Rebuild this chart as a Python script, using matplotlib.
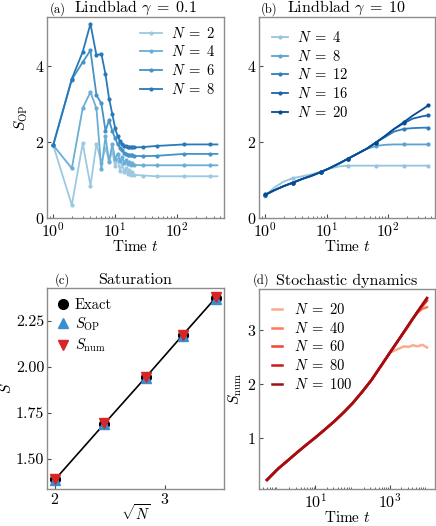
import numpy as np
import matplotlib
matplotlib.use('Agg')
import matplotlib.pyplot as plt
from matplotlib.ticker import LogLocator, NullFormatter, FixedLocator
from matplotlib.lines import Line2D

plt.rcParams['font.family'] = 'serif'
plt.rcParams['font.serif'] = ['cmr10']
plt.rcParams['mathtext.fontset'] = 'cm'
plt.rcParams['axes.formatter.use_mathtext'] = True
plt.rcParams['axes.unicode_minus'] = False

# (a) Lindblad gamma = 0.1
t_a = [1, 2, 3, 4, 5, 6, 7, 8, 9, 10, 11, 12, 13, 14, 15, 16, 17, 18, 19, 20,
       28, 47, 130, 340, 450]
N_a = [2, 4, 6, 8]
S_a = {
    2: [1.92, 0.34, 1.97, 0.85, 1.96, 1.45, 1.85, 1.50, 1.75, 1.38, 1.55, 1.25,
        1.42, 1.20, 1.32, 1.15, 1.26, 1.13, 1.20, 1.14, 1.12, 1.10, 1.10, 1.10, 1.10],
    4: [1.92, 1.31, 2.90, 3.32, 2.89, 1.28, 2.15, 1.48, 1.95, 1.55, 1.70, 1.50,
        1.60, 1.45, 1.53, 1.42, 1.48, 1.40, 1.44, 1.40, 1.39, 1.39, 1.39, 1.39, 1.39],
    6: [1.92, 3.65, 4.11, 4.42, 3.24, 3.02, 2.30, 2.58, 2.30, 2.10, 1.95, 1.85,
        1.78, 1.72, 1.70, 1.67, 1.66, 1.65, 1.65, 1.64, 1.63, 1.64, 1.69, 1.69, 1.69],
    8: [1.92, 3.67, 4.38, 5.12, 4.29, 4.33, 3.79, 3.15, 2.75, 2.38, 2.15, 2.02,
        1.95, 1.91, 1.89, 1.88, 1.87, 1.86, 1.86, 1.86, 1.87, 1.90, 1.94, 1.94, 1.94],
}

# (b) Lindblad gamma = 10
t_b = [1, 1.4, 2, 2.8, 4, 5.6, 8, 11, 16, 22, 32, 45, 63, 90, 125, 180, 250, 355, 450]
N_b = [4, 8, 12, 16, 20]
S_b = {
    4: [0.58, 0.80, 0.96, 1.05, 1.10, 1.15, 1.22, 1.30, 1.36, 1.38, 1.38, 1.38,
        1.38, 1.38, 1.38, 1.38, 1.38, 1.38, 1.38],
    8: [0.60, 0.73, 0.84, 0.93, 1.03, 1.11, 1.21, 1.31, 1.44, 1.56, 1.70, 1.82,
        1.90, 1.93, 1.94, 1.94, 1.94, 1.94, 1.94],
    12: [0.60, 0.73, 0.84, 0.93, 1.03, 1.11, 1.21, 1.31, 1.44, 1.56, 1.70, 1.83,
         1.99, 2.14, 2.28, 2.35, 2.37, 2.38, 2.38],
    16: [0.61, 0.73, 0.84, 0.93, 1.03, 1.11, 1.21, 1.31, 1.44, 1.56, 1.70, 1.83,
         1.99, 2.17, 2.35, 2.50, 2.62, 2.68, 2.71],
    20: [0.62, 0.73, 0.84, 0.93, 1.03, 1.11, 1.21, 1.31, 1.44, 1.56, 1.70, 1.83,
         1.99, 2.17, 2.35, 2.53, 2.70, 2.86, 2.97],
}

# (c) Saturation
N_c = [4, 6, 8, 10, 12]
S_exact = [1.386, 1.690, 1.944, 2.172, 2.376]
S_op = [1.384, 1.686, 1.940, 2.168, 2.370]
S_num = [1.390, 1.692, 1.946, 2.174, 2.378]

# (d) Stochastic dynamics
t_d = [0.5, 1, 1.8, 3.2, 5.6, 10, 18, 32, 56, 100, 180, 320, 560, 1000, 1800,
       3200, 5600, 10000]
S_main = [0.21, 0.42, 0.57, 0.72, 0.86, 1.00, 1.15, 1.30, 1.46, 1.64, 1.85, 2.07,
          2.32, 2.58, 2.84, 3.10, 3.35, 3.60]
t_d20 = [0.5, 1, 1.8, 3.2, 5.6, 10, 18, 32, 56, 100, 180, 320, 560, 800, 1000,
         1300, 1800, 2400, 3200, 4200, 5600, 7500, 10000]
S_d20 = [0.21, 0.42, 0.57, 0.72, 0.86, 1.00, 1.15, 1.30, 1.46, 1.64, 1.85, 2.07,
         2.32, 2.48, 2.58, 2.62, 2.66, 2.70, 2.69, 2.72, 2.70, 2.73, 2.68]
t_d40 = [0.5, 1, 1.8, 3.2, 5.6, 10, 18, 32, 56, 100, 180, 320, 560, 1000, 1800,
         3200, 4200, 5600, 7500, 10000]
S_d40 = [0.21, 0.42, 0.57, 0.72, 0.86, 1.00, 1.15, 1.30, 1.46, 1.64, 1.85, 2.07,
         2.32, 2.58, 2.84, 3.08, 3.22, 3.33, 3.40, 3.43]
S_d60 = [0.21, 0.42, 0.57, 0.72, 0.86, 1.00, 1.15, 1.30, 1.46, 1.64, 1.85, 2.07,
         2.32, 2.58, 2.84, 3.10, 3.34, 3.55]
N_d = [20, 40, 60, 80, 100]

fs_tick = 11.5
fs_title = 11.5
fs_label = 11
fs_leg = 10.5
spine_col = '0.55'

fig = plt.figure(figsize=(4.36, 5.26), dpi=100)
W, H = 436, 526


def add_ax(x0, x1, ytop, ybot):
    return fig.add_axes([x0 / W, (H - ybot) / H, (x1 - x0) / W, (ybot - ytop) / H])


def style(ax):
    for s in ax.spines.values():
        s.set_color(spine_col)
        s.set_linewidth(1.0)
    ax.tick_params(which='both', direction='in', labelsize=fs_tick, color='0.3', pad=2)
    ax.tick_params(which='major', length=3, width=0.8)
    ax.tick_params(which='minor', length=1.8, width=0.6)


def nlab(N):
    return r'$N\;=\;%d$' % N


ax_a = add_ax(47, 224, 17, 218)
ax_b = add_ax(259, 435, 17, 218)
ax_c = add_ax(47, 224, 288, 489)
ax_d = add_ax(259, 435, 289, 489)

blues_a = [plt.cm.Blues(v) for v in [0.38, 0.5, 0.62, 0.72]]
for N, c in zip(N_a, blues_a):
    ax_a.plot(t_a, S_a[N], '-', color=c, lw=1.3, marker='o', ms=2,
              markevery=slice(0, -1), label=nlab(N))

blues_b = [plt.cm.Blues(v) for v in [0.4, 0.55, 0.7, 0.8, 0.9]]
for N, c in zip(N_b, blues_b):
    ax_b.plot(t_b, S_b[N], '-', color=c, lw=1.3, marker='o', ms=2,
              markevery=3, label=nlab(N))

for ax in (ax_a, ax_b):
    ax.set_xscale('log')
    ax.set_xlim(10 ** -0.1, 10 ** 2.76)
    ax.set_ylim(0, 5.3)
    ax.set_yticks([0, 2, 4])
    ax.set_xlabel('Time $t$', fontsize=fs_label, labelpad=0)
    style(ax)
ax_a.set_ylabel(r'$S_{\rm OP}$', fontsize=fs_label, labelpad=3)

ax_a.legend(loc='upper right', frameon=False, fontsize=fs_leg, handlelength=1.5,
            labelspacing=0.25, handletextpad=0.6, borderaxespad=0.2)
ax_b.legend(loc='upper left', frameon=False, fontsize=fs_leg, handlelength=1.1,
            labelspacing=0.25, handletextpad=0.6, borderaxespad=0.5)

# (c)
x_c = np.sqrt(N_c)
ax_c.plot(x_c, S_exact, 'o-', color='black', lw=1.2, ms=7, label='Exact')
ax_c.plot(x_c, S_op, '^', color='#3a8fd0', ms=7, lw=0, label=r'$S_{\rm OP}$')
ax_c.plot(x_c, S_num, 'v', color='#d62728', ms=7, lw=0, label=r'$S_{\rm num}$')
ax_c.set_yticks([1.5, 1.75, 2.0, 2.25])
ax_c.set_yticklabels(['1.50', '1.75', '2.00', '2.25'])
ax_c.set_xticks([2, 3])
ax_c.set_xlabel(r'$\sqrt{N}$', fontsize=10.5, labelpad=-3)
ax_c.set_ylabel('$S$', fontsize=fs_label, labelpad=1)
style(ax_c)
h, l = ax_c.get_legend_handles_labels()
h[0] = Line2D([], [], marker='o', color='black', ms=7, lw=0)
ax_c.legend(h, l, loc='upper left', frameon=False, fontsize=fs_leg, handlelength=0.8,
            labelspacing=0.25, handletextpad=0.4, borderaxespad=0.3)

# (d)
reds = [plt.cm.Reds(v) for v in [0.3, 0.45, 0.6, 0.75, 0.88]]
ax_d.plot(t_d20, S_d20, color=reds[0], lw=1.8, label=nlab(20))
ax_d.plot(t_d40, S_d40, color=reds[1], lw=1.8, label=nlab(40))
ax_d.plot(t_d, S_d60, color=reds[2], lw=1.8, label=nlab(60))
ax_d.plot(t_d, S_main, color=reds[3], lw=1.8, label=nlab(80))
ax_d.plot(t_d, S_main, color=reds[4], lw=1.8, label=nlab(100))
ax_d.set_xscale('log')
ax_d.xaxis.set_major_locator(FixedLocator([10, 1000]))
ax_d.xaxis.set_minor_locator(LogLocator(base=10, subs='auto', numticks=20))
ax_d.xaxis.set_minor_formatter(NullFormatter())
ax_d.set_yticks([1, 2, 3])
ax_d.set_xlabel('Time $t$', fontsize=fs_label, labelpad=0)
ax_d.set_ylabel(r'$S_{\rm num}$', fontsize=fs_label, labelpad=2)
style(ax_d)
ax_d.legend(loc='upper left', frameon=False, fontsize=fs_leg, handlelength=0.7,
            labelspacing=0.25, handletextpad=0.8, borderaxespad=0.5)

# titles
ax_a.set_title(r'Lindblad $\gamma\;=\;0.1$', fontsize=fs_title, pad=3)
ax_b.set_title(r'Lindblad $\gamma\;=\;10$', fontsize=fs_title, pad=3)
ax_c.set_title('Saturation', fontsize=fs_title, pad=3)
ax_d.set_title('Stochastic dynamics', fontsize=fs_title, pad=3)
for txt, x, y in [('(a)', 50, 13), ('(b)', 261, 13), ('(c)', 55, 284), ('(d)', 253, 284)]:
    fig.text(x / W, (H - y) / H, txt, fontsize=9, ha='left', va='baseline')

fig.savefig('out.png', dpi=100)
